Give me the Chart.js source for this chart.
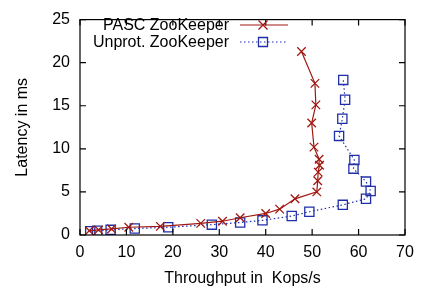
<!DOCTYPE html>
<html>
<head>
<meta charset="utf-8">
<script src="https://cdn.jsdelivr.net/npm/chart.js@4"></script>
<style>
  html, body { margin: 0; padding: 0; background: #fff; }
  #wrap { width: 426px; height: 288px; }
</style>
</head>
<body>
<div id="wrap"><canvas id="chart" width="426" height="288"></canvas></div>
<script>
const FONT = '"Liberation Sans", Arial, Helvetica, sans-serif';
const RED = '#a01812';
const BLUE = '#1f2fa8';

// PASC ZooKeeper (throughput Kops/s, latency ms)
const pascX = [2.0, 4.0, 6.8, 10.5, 17.3, 26.0, 30.7, 34.5, 40.0, 43.0, 46.3, 51.0, 51.2, 51.3, 51.6, 51.5, 50.4, 49.9, 50.8, 50.6, 47.7];
const pascY = [0.5, 0.6, 0.7, 0.9, 1.0, 1.35, 1.6, 2.0, 2.5, 3.0, 4.2, 5.0, 6.3, 7.3, 8.1, 8.8, 10.2, 13.0, 15.1, 17.6, 21.3];

// Unprot. ZooKeeper
const unprotX = [2.2, 3.7, 6.6, 11.8, 19.0, 28.4, 34.5, 39.3, 45.6, 49.4, 56.6, 61.6, 62.6, 61.6, 58.9, 59.1, 55.8, 56.5, 57.1, 56.7];
const unprotY = [0.45, 0.5, 0.6, 0.75, 0.9, 1.2, 1.45, 1.7, 2.2, 2.7, 3.5, 4.2, 5.1, 6.2, 7.7, 8.7, 11.5, 13.5, 15.7, 18.0];

const xTicks = [0, 10, 20, 30, 40, 50, 60, 70];
const yTicks = [0, 5, 10, 15, 20, 25];

const legendLabels = ['PASC ZooKeeper', 'Unprot. ZooKeeper'];

function toPoints(xs, ys) {
  return xs.map((x, i) => ({ x: x, y: ys[i] }));
}

// Frame, inward ticks and gnuplot-like key
const framePlugin = {
  id: 'frame',
  afterDraw(chart) {
    const ctx = chart.ctx;
    const a = chart.chartArea;
    const xs = chart.scales.x;
    const ys = chart.scales.y;
    ctx.save();
    ctx.strokeStyle = '#000';
    ctx.lineWidth = 1.2;
    ctx.strokeRect(a.left, a.top, a.right - a.left, a.bottom - a.top);
    ctx.beginPath();
    xTicks.forEach(v => {
      const px = xs.getPixelForValue(v);
      ctx.moveTo(px, a.bottom); ctx.lineTo(px, a.bottom - 6);
      ctx.moveTo(px, a.top); ctx.lineTo(px, a.top + 6);
    });
    yTicks.forEach(v => {
      const py = ys.getPixelForValue(v);
      ctx.moveTo(a.left, py); ctx.lineTo(a.left + 6, py);
      ctx.moveTo(a.right, py); ctx.lineTo(a.right - 6, py);
    });
    ctx.stroke();

    // key
    ctx.font = '16px ' + FONT;
    ctx.textAlign = 'right';
    ctx.textBaseline = 'middle';
    ctx.fillStyle = '#000';
    const rows = [25, 42];
    const mx = 263;
    chart.data.datasets.forEach((ds, i) => {
      const y = rows[i];
      ctx.fillText(legendLabels[i], 229, y + 1);
      ctx.strokeStyle = ds.borderColor;
      ctx.lineWidth = ds.borderWidth;
      ctx.setLineDash(ds.borderDash || []);
      ctx.beginPath();
      ctx.moveTo(240, y); ctx.lineTo(288, y);
      ctx.stroke();
      ctx.setLineDash([]);
      ctx.lineWidth = ds.pointBorderWidth;
      ctx.beginPath();
      if (ds.pointStyle === 'crossRot') {
        const r = 4.5;
        ctx.moveTo(mx - r, y - r); ctx.lineTo(mx + r, y + r);
        ctx.moveTo(mx - r, y + r); ctx.lineTo(mx + r, y - r);
      } else {
        ctx.rect(mx - 4.5, y - 4.5, 9, 9);
      }
      ctx.stroke();
    });
    ctx.restore();
  }
};

const ctx = document.getElementById('chart');
new Chart(ctx, {
  type: 'scatter',
  data: {
    datasets: [
      {
        label: legendLabels[0],
        data: toPoints(pascX, pascY),
        showLine: true,
        borderColor: RED,
        borderWidth: 1.2,
        pointStyle: 'crossRot',
        pointRadius: 6,
        pointBorderWidth: 1.3,
        pointBorderColor: RED,
        pointBackgroundColor: 'transparent',
        tension: 0
      },
      {
        label: legendLabels[1],
        data: toPoints(unprotX, unprotY),
        showLine: true,
        borderColor: BLUE,
        borderWidth: 1.2,
        borderDash: [1.5, 2.5],
        pointStyle: 'rect',
        pointRadius: 6.5,
        pointBorderWidth: 1.3,
        pointBorderColor: BLUE,
        pointBackgroundColor: 'transparent',
        tension: 0
      }
    ]
  },
  options: {
    responsive: false,
    animation: false,
    events: [],
    layout: { padding: { left: 0, right: 21, top: 8, bottom: 0 } },
    plugins: {
      legend: { display: false },
      tooltip: { enabled: false }
    },
    scales: {
      x: {
        type: 'linear',
        min: 0,
        max: 70,
        afterBuildTicks: s => { s.ticks = xTicks.map(v => ({ value: v })); },
        afterFit: s => { s.height = 53; },
        grid: { display: false, drawTicks: false },
        border: { display: false },
        ticks: { color: '#000', padding: 8, font: { family: FONT, size: 16 } },
        title: {
          display: true,
          text: 'Throughput in  Kops/s',
          color: '#000',
          font: { family: FONT, size: 16 },
          padding: { top: 2, bottom: 0 }
        }
      },
      y: {
        type: 'linear',
        min: 0,
        max: 25,
        afterBuildTicks: s => { s.ticks = yTicks.map(v => ({ value: v })); },
        afterFit: s => { s.width = 80; },
        grid: { display: false, drawTicks: false },
        border: { display: false },
        ticks: { color: '#000', padding: 10, font: { family: FONT, size: 16 } },
        title: {
          display: true,
          text: 'Latency in ms',
          color: '#000',
          font: { family: FONT, size: 16 },
          padding: { top: 13, bottom: 0 }
        }
      }
    }
  },
  plugins: [framePlugin]
});
</script>
</body>
</html>
